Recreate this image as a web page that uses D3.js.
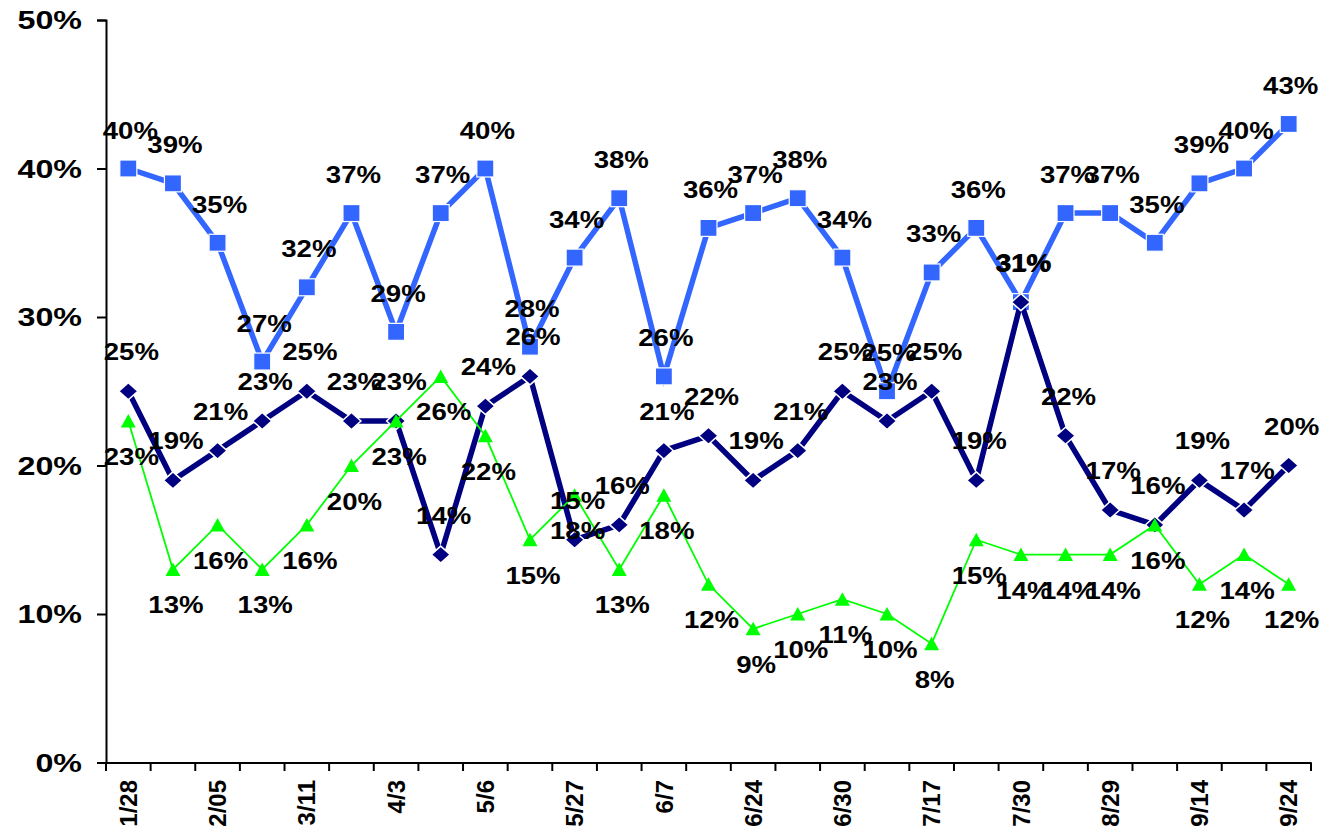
<!DOCTYPE html>
<html><head><meta charset="utf-8">
<script src="https://cdn.jsdelivr.net/npm/d3@7"></script>
<style>body{margin:0;background:#fff}svg text{font-family:"Liberation Sans",Arial,sans-serif;font-weight:bold;fill:#000}</style>
</head><body>
<svg id="c" width="1337" height="833"></svg>
<script>
const dateLabels = ["1/28","","2/05","","3/11","","4/3","","5/6","","5/27","","6/7","","6/24","","6/30","","7/17","","7/30","","8/29","","9/14","","9/24"];
const blueValues  = [40,39,35,27,32,37,29,37,40,28,34,38,26,36,37,38,34,25,33,36,31,37,37,35,39,40,43];
const navyValues  = [25,19,21,23,25,23,23,14,24,26,15,16,21,22,19,21,25,23,25,19,31,22,17,16,19,17,20];
const greenValues = [23,13,16,13,16,20,23,26,22,15,18,13,18,12,9,10,11,10,8,15,14,14,14,16,12,14,12];
const yTicks = [0,10,20,30,40,50];

const svg = d3.select("#c");
const idx = d3.range(dateLabels.length);
const x = d3.scaleBand().domain(idx).range([106,1311]).padding(0);
const cx = i => x(i) + x.bandwidth()/2;
const y = d3.scaleLinear().domain([0,50]).range([762.5,20]);

// axes
const yAxis = d3.axisLeft(y).tickValues(yTicks).tickSize(9).tickFormat("");
const gy = svg.append("g").attr("transform","translate(106,0)").call(yAxis);
gy.select(".domain").attr("stroke","#000").attr("stroke-width",2);
gy.selectAll(".tick line").attr("stroke","#000").attr("stroke-width",2);
yTicks.forEach(t=>{
  svg.append("g").attr("transform",`translate(82,${y(t)+9}) scale(1.24,1)`)
    .append("text").attr("text-anchor","end").style("font-size","26px").text(t+"%");
});

const xAxis = d3.axisBottom(x).tickSize(0).tickFormat("");
const gx = svg.append("g").attr("transform","translate(0,762.5)").call(xAxis);
gx.select(".domain").attr("stroke","#000").attr("stroke-width",2);
const bounds = idx.map(i=>x(i)).concat([x(idx[idx.length-1])+x.bandwidth()]);
svg.append("g").selectAll("line").data(bounds).join("line")
  .attr("x1",d=>d).attr("x2",d=>d).attr("y1",762.5).attr("y2",771)
  .attr("stroke","#000").attr("stroke-width",2);
svg.append("g").selectAll("g").data(idx.filter(i=>dateLabels[i]!=="")).join("g")
  .attr("transform",i=>`translate(${cx(i)},780) rotate(-90)`)
  .append("text").attr("text-anchor","end").attr("dy","0.36em")
  .style("font-size","24px").text(i=>dateLabels[i]);

const series = [
  {vals: blueValues, color:"#3366FF", width:5.5, marker:"square", labelDy:-30, labelDx:2},
  {vals: navyValues, color:"#000080", width:5.5, marker:"diamond", labelDy:-31, labelDx:3},
  {vals: greenValues, color:"#00FF00", width:1.8, marker:"triangle", labelDy:44, labelDx:3}
];

const line = d3.line().x((d,i)=>cx(i)).y(d=>y(d));
series.forEach(s=>{
  svg.append("path").datum(s.vals).attr("d",line).attr("fill","none")
    .attr("stroke",s.color).attr("stroke-width",s.width).attr("stroke-linejoin","miter");
  const g = svg.append("g");
  s.vals.forEach((v,i)=>{
    const px=cx(i), py=y(v);
    if(s.marker==="square"){
      g.append("rect").attr("x",px-8.5).attr("y",py-8.5).attr("width",17).attr("height",17)
        .attr("fill",s.color).attr("stroke","#fff").attr("stroke-width",1.2);
    } else if(s.marker==="diamond"){
      g.append("path").attr("d",`M${px},${py-8.5}L${px+9.5},${py}L${px},${py+8.5}L${px-9.5},${py}Z`)
        .attr("fill",s.color).attr("stroke","#fff").attr("stroke-width",1.5);
    } else {
      g.append("path").attr("d",`M${px},${py-7}L${px+7.5},${py+6.5}L${px-7.5},${py+6.5}Z`)
        .attr("fill",s.color);
    }
  });
});
series.forEach(s=>{
  const g = svg.append("g");
  s.vals.forEach((v,i)=>{
    g.append("g").attr("transform",`translate(${cx(i)+s.labelDx},${y(v)+s.labelDy}) scale(1.2,1)`)
      .append("text").attr("text-anchor","middle").style("font-size","23px").text(v+"%");
  });
});
</script>
</body></html>
